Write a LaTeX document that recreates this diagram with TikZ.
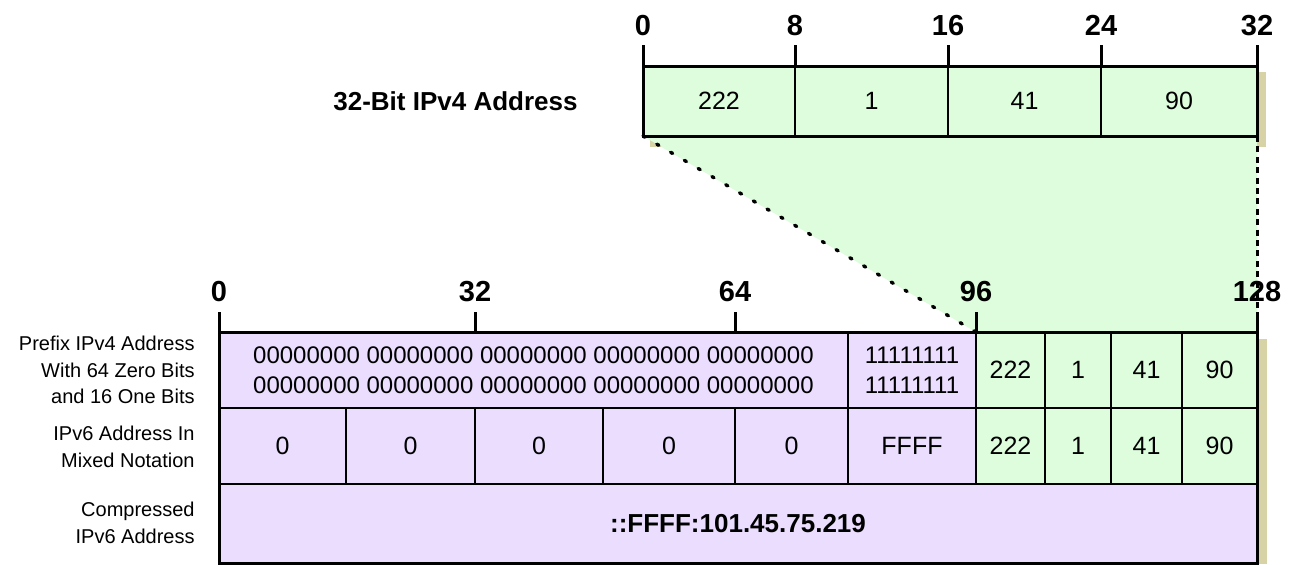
\documentclass[tikz,border=0pt]{standalone}
\usepackage{fontspec}
\setmainfont{Liberation Sans}
\usetikzlibrary{backgrounds}
\definecolor{ipgreen}{HTML}{DDFDDD}
\definecolor{ippurple}{HTML}{EADDFE}
\definecolor{ipshadow}{HTML}{D8D3A6}
\newcommand\ipcell[7]{\node[cellbox,#6,anchor=north west,minimum width={(#4-#2)*0.5pt},minimum height={(#5-#3)*0.5pt}] (#1) at (#2,#3) {#7};}
\begin{document}
\begin{tikzpicture}[x=0.5pt,y=-0.5pt,
  cellbox/.style={draw,line width=1pt,inner sep=0pt,outer sep=0pt,font=\fontsize{12.5}{15}\selectfont,align=center},
  gcell/.style={fill=ipgreen},
  pcell/.style={fill=ippurple},
  ticklbl/.style={font=\bfseries\fontsize{14.5}{16}\selectfont,inner sep=0pt,anchor=base},
  rowlbl/.style={font=\fontsize{10}{13.25}\selectfont,align=right,anchor=east,inner sep=0pt},
  tickline/.style={line width=1.5pt},
  frameline/.style={line width=1.5pt},
  dotline/.style={line width=1.7pt,line cap=round,dash pattern=on 1.2pt off 6.8pt},
  dashline/.style={line width=1.5pt,dash pattern=on 3pt off 2.2pt}]
\useasboundingbox (0,0) rectangle (1296,564);
% top IPv4 address
\ipcell{a1}{643}{66}{795}{136}{gcell}{222}
\ipcell{a2}{795}{66}{948}{136}{gcell}{1}
\ipcell{a3}{948}{66}{1101}{136}{gcell}{41}
\ipcell{a4}{1101}{66}{1257}{136}{gcell}{90}
\draw[frameline] (a1.north west) rectangle (a4.south east);
\node[anchor=east,inner sep=0pt,font=\bfseries\fontsize{13}{15}\selectfont] (v4lbl) at (578,101) {32-Bit IPv4 Address};
% top ticks
\coordinate (t0) at (643,45);
\coordinate (t1) at (795,45);
\coordinate (t2) at (948,45);
\coordinate (t3) at (1101,45);
\coordinate (t4) at (1257,45);
\draw[tickline] (t0) -- (a1.north west);
\draw[tickline] (t1) -- (a2.north west);
\draw[tickline] (t2) -- (a3.north west);
\draw[tickline] (t3) -- (a4.north west);
\draw[tickline] (t4) -- (a4.north east);
\node[ticklbl] (l0) at (643,35) {0};
\node[ticklbl] (l1) at (795,35) {8};
\node[ticklbl] (l2) at (948,35) {16};
\node[ticklbl] (l3) at (1101,35) {24};
\node[ticklbl] (l4) at (1257,35) {32};
% row 1
\ipcell{b0}{219}{332}{848}{408}{pcell,font=\fontsize{12}{15}\selectfont}{00000000 00000000 00000000 00000000 00000000\\00000000 00000000 00000000 00000000 00000000}
\ipcell{b5}{848}{332}{976}{408}{pcell,font=\fontsize{12}{15}\selectfont}{11111111\\11111111}
\ipcell{b6}{976}{332}{1045}{408}{gcell}{222}
\ipcell{b7}{1045}{332}{1111}{408}{gcell}{1}
\ipcell{b8}{1111}{332}{1182}{408}{gcell}{41}
\ipcell{b9}{1182}{332}{1257}{408}{gcell}{90}
% row 2
\ipcell{c1}{219}{408}{346}{484}{pcell}{0}
\ipcell{c2}{346}{408}{475}{484}{pcell}{0}
\ipcell{c3}{475}{408}{603}{484}{pcell}{0}
\ipcell{c4}{603}{408}{735}{484}{pcell}{0}
\ipcell{c5}{735}{408}{848}{484}{pcell}{0}
\ipcell{c6}{848}{408}{976}{484}{pcell}{FFFF}
\ipcell{c7}{976}{408}{1045}{484}{gcell}{222}
\ipcell{c8}{1045}{408}{1111}{484}{gcell}{1}
\ipcell{c9}{1111}{408}{1182}{484}{gcell}{41}
\ipcell{c10}{1182}{408}{1257}{484}{gcell}{90}
% row 3
\ipcell{d1}{219}{484}{1257}{563}{pcell,font=\bfseries\fontsize{13}{15}\selectfont}{::FFFF:101.45.75.219}
\draw[frameline] (b0.north west) rectangle (d1.south east);
% row labels
\node[rowlbl] (r1lbl) at (195,370) {Prefix IPv4 Address\\With 64 Zero Bits\\and 16 One Bits};
\node[rowlbl] (r2lbl) at (195,447) {IPv6 Address In\\Mixed Notation};
\node[rowlbl] (r3lbl) at (195,523) {Compressed\\IPv6 Address};
% bottom ticks
\coordinate (u0) at (219,312);
\coordinate (u1) at (475,312);
\coordinate (u2) at (735,312);
\coordinate (u3) at (976,312);
\coordinate (u4) at (1257,312);
\draw[tickline] (u0) -- (b0.north west);
\draw[tickline] (u1) -- (c3.north west |- b0.north);
\draw[tickline] (u2) -- (c5.north west |- b0.north);
\draw[tickline] (u3) -- (b6.north west);
\draw[tickline] (u4) -- (b9.north east);
\node[ticklbl] (m0) at (219,301) {0};
\node[ticklbl] (m1) at (475,301) {32};
\node[ticklbl] (m2) at (735,301) {64};
\node[ticklbl] (m3) at (976,301) {96};
\node[ticklbl] (m4) at (1257,301) {128};
% mapping lines
\draw[dotline] (a1.south west) -- (b6.north west);
\draw[dashline] (a4.south east) -- (b9.north east);
% background
\begin{scope}[on background layer]
  \fill[ipshadow] (650,72) rectangle (1266,147);
  \fill[ipshadow] (1257,339) rectangle (1267,564);
  \fill[ipgreen] (a1.south west) -- (a4.south east) -- (b9.north east) -- (b6.north west) -- cycle;
\end{scope}
\end{tikzpicture}
\end{document}
